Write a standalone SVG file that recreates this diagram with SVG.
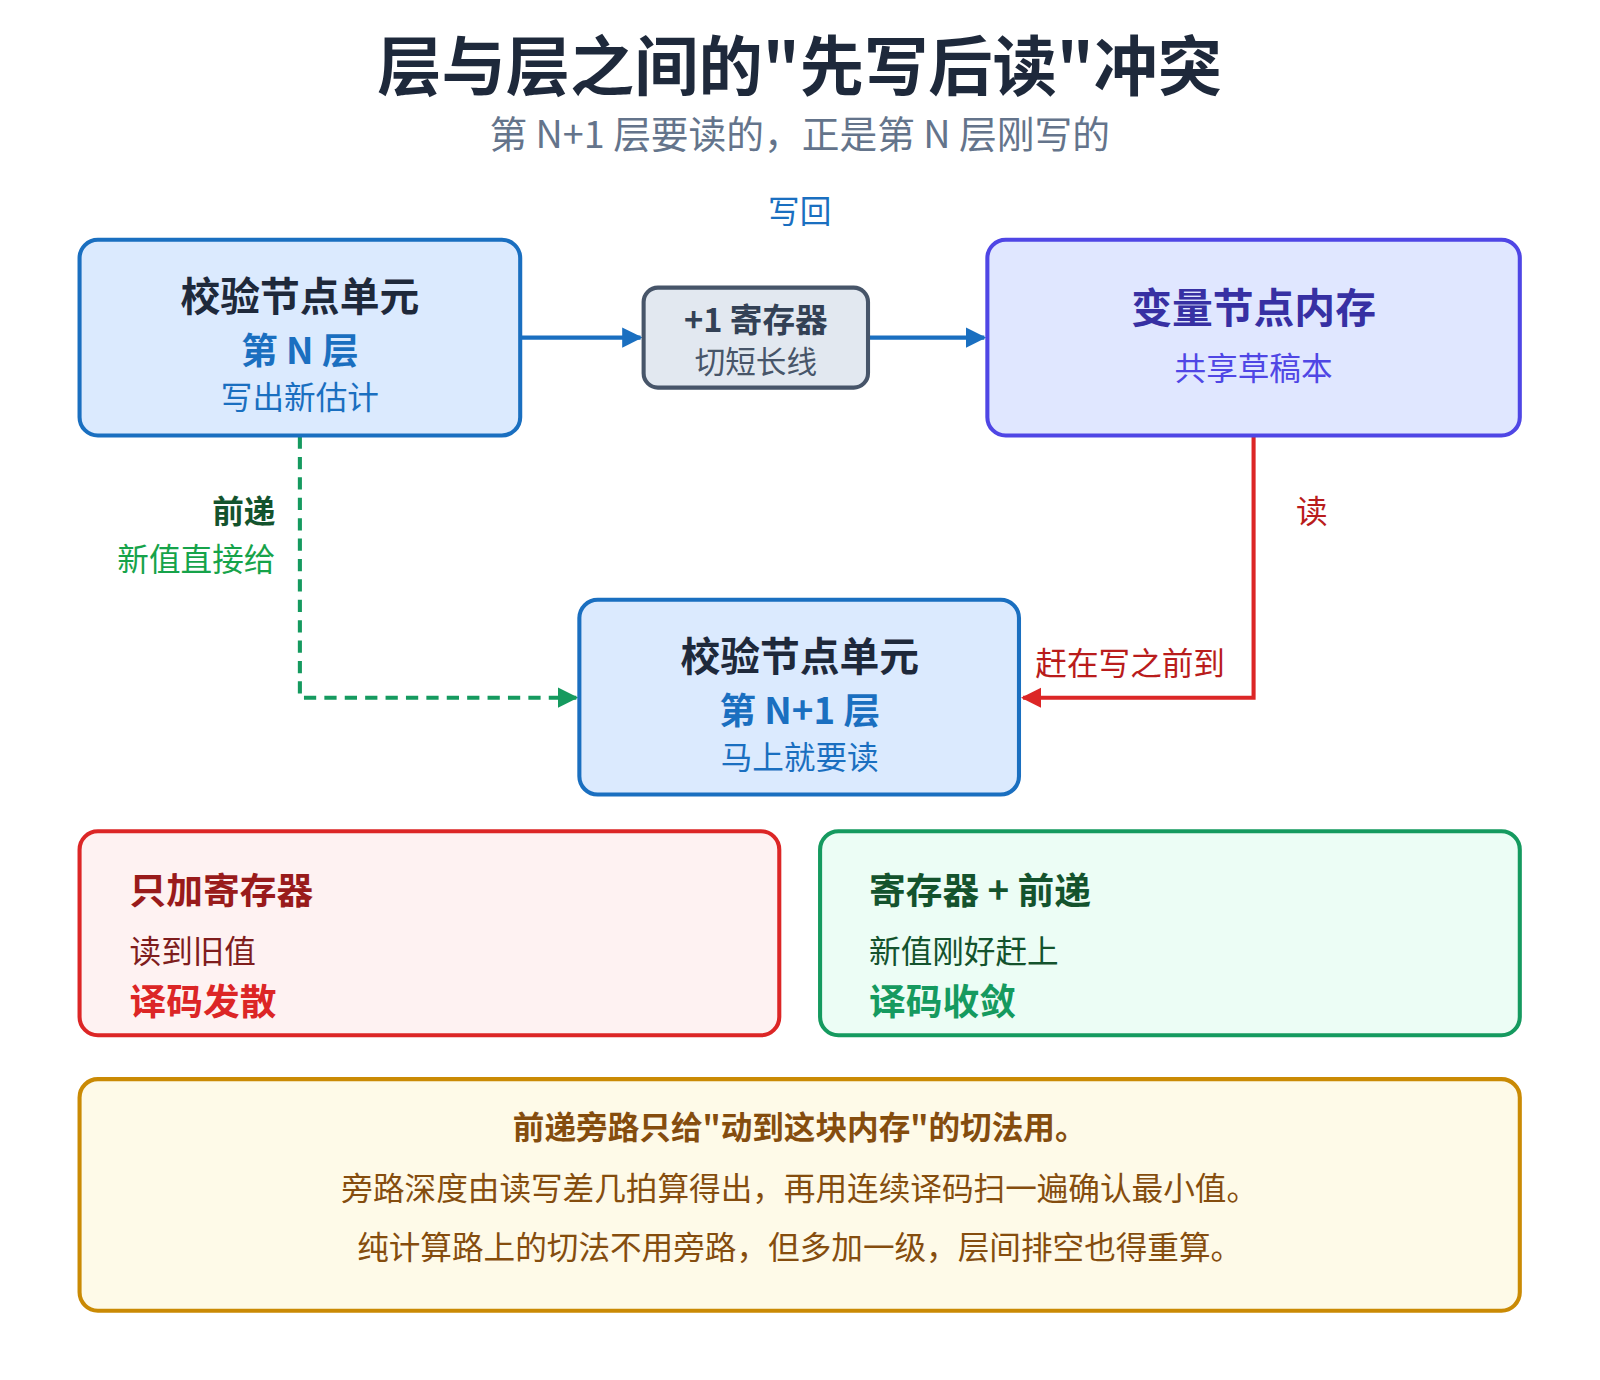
<svg xmlns="http://www.w3.org/2000/svg" width="1600" height="1380" viewBox="0 0 1600 1380">
<style>
text{font-family:"Noto Sans CJK SC","Noto Sans",sans-serif;text-anchor:middle}
.b{font-weight:bold}
.s{text-anchor:start}
.e{text-anchor:end}
</style>
<defs>
<marker id="ab" viewBox="0 0 10 10" refX="9" refY="5" markerWidth="5" markerHeight="5" orient="auto"><path d="M0,0L10,5L0,10z" fill="#1a6fc0"/></marker>
<marker id="ag" viewBox="0 0 10 10" refX="9" refY="5" markerWidth="5" markerHeight="5" orient="auto"><path d="M0,0L10,5L0,10z" fill="#159a5f"/></marker>
<marker id="ar" viewBox="0 0 10 10" refX="9" refY="5" markerWidth="5" markerHeight="5" orient="auto"><path d="M0,0L10,5L0,10z" fill="#dc2626"/></marker>
</defs>
<rect width="1600" height="1380" fill="#fff"/>
<g transform="scale(1.02)">
<text x="784" y="88" font-size="63" class="b" fill="#1e293b">层与层之间的"先写后读"冲突</text>
<text x="784" y="145" font-size="37" fill="#64748b">第 N+1 层要读的，正是第 N 层刚写的</text>
<g id="connectors" fill="none" stroke-width="4">
<path d="M511,331H628" stroke="#1a6fc0" marker-end="url(#ab)"/>
<path d="M852,331H965" stroke="#1a6fc0" marker-end="url(#ab)"/>
<path d="M294,428V684H565" stroke="#159a5f" stroke-dasharray="12,8" marker-end="url(#ag)"/>
<path d="M1229,428V684H1003" stroke="#dc2626" marker-end="url(#ar)"/>
<text x="784" y="219" font-size="31" fill="#1a6fc0" stroke="none">写回</text>
<text x="270" y="513" font-size="31" class="b e" fill="#14532d" stroke="none">前递</text>
<text x="270" y="560" font-size="31" class="e" fill="#16a34a" stroke="none">新值直接给</text>
<text x="1286" y="513" font-size="31" fill="#b91c1c" stroke="none">读</text>
<text x="1108" y="662" font-size="31" fill="#b91c1c" stroke="none">赶在写之前到</text>
</g>
<g id="n1"><rect x="78" y="235" width="432" height="192" rx="18" fill="#dbeafe" stroke="#1a6fc0" stroke-width="4"/>
<text x="294" y="305" font-size="39" class="b" fill="#1e293b">校验节点单元</text>
<text x="294" y="357" font-size="36" class="b" fill="#1a6fc0">第 N 层</text>
<text x="294" y="401" font-size="31" fill="#1a6fc0">写出新估计</text></g>
<g id="reg"><rect x="631" y="282" width="220" height="98" rx="14" fill="#e2e8f0" stroke="#475569" stroke-width="4"/>
<text x="741" y="325" font-size="32" class="b" fill="#334155">+1 寄存器</text>
<text x="741" y="366" font-size="30" fill="#475569">切短长线</text></g>
<g id="mem"><rect x="968" y="235" width="522" height="192" rx="18" fill="#e0e7ff" stroke="#4f46e5" stroke-width="4"/>
<text x="1229" y="317" font-size="40" class="b" fill="#3730a3">变量节点内存</text>
<text x="1229" y="373" font-size="31" fill="#4f46e5">共享草稿本</text></g>
<g id="n2"><rect x="568" y="588" width="431" height="191" rx="18" fill="#dbeafe" stroke="#1a6fc0" stroke-width="4"/>
<text x="784" y="658" font-size="39" class="b" fill="#1e293b">校验节点单元</text>
<text x="784" y="710" font-size="36" class="b" fill="#1a6fc0">第 N+1 层</text>
<text x="784" y="754" font-size="31" fill="#1a6fc0">马上就要读</text></g>
<g id="bad"><rect x="78" y="815" width="686" height="200" rx="18" fill="#fef2f2" stroke="#dc2626" stroke-width="4"/>
<text x="127" y="886" font-size="36" class="b s" fill="#991b1b">只加寄存器</text>
<text x="127" y="944" font-size="31" class="s" fill="#7f1d1d">读到旧值</text>
<text x="127" y="995" font-size="36" class="b s" fill="#dc2626">译码发散</text></g>
<g id="good"><rect x="804" y="815" width="686" height="200" rx="18" fill="#ecfdf5" stroke="#159a5f" stroke-width="4"/>
<text x="852" y="886" font-size="36" class="b s" fill="#14532d">寄存器 + 前递</text>
<text x="852" y="944" font-size="31" class="s" fill="#14532d">新值刚好赶上</text>
<text x="852" y="995" font-size="36" class="b s" fill="#159a5f">译码收敛</text></g>
<g id="note"><rect x="78" y="1058" width="1412" height="227" rx="18" fill="#fefae8" stroke="#ca8a04" stroke-width="4"/>
<text x="784" y="1117" font-size="31" class="b" fill="#854d0e">前递旁路只给"动到这块内存"的切法用。</text>
<text x="784" y="1176" font-size="31" fill="#854d0e">旁路深度由读写差几拍算得出，再用连续译码扫一遍确认最小值。</text>
<text x="784" y="1234" font-size="31" fill="#854d0e">纯计算路上的切法不用旁路，但多加一级，层间排空也得重算。</text></g>
</g>
</svg>
